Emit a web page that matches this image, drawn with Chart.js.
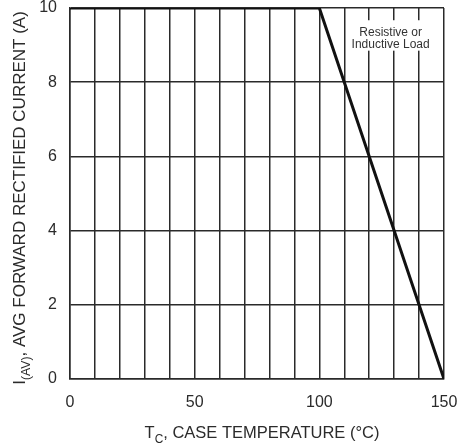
<!DOCTYPE html>
<html>
<head>
<meta charset="utf-8">
<script src="https://cdn.jsdelivr.net/npm/chart.js@4.4.1/dist/chart.umd.min.js"></script>
<style>
  html, body { margin: 0; padding: 0; background: #fff; }
  #wrap { width: 457px; height: 443px; }
</style>
</head>
<body>
<div id="wrap"><canvas id="derating" width="457" height="443"></canvas></div>
<script>
// derating curve
const caseTemp = [0, 100, 150];
const avgCurrent = [10, 10, 0];
const xTickLabels = [0, 50, 100, 150];
const yTickLabels = [0, 2, 4, 6, 8, 10];
const noteLines = ["Resistive or", "Inductive Load"];

const gridColor = "#2a2a2a";
const textColor = "#2b2b2b";

// draws text made of normal + subscript pieces, centred on 0,0
function drawParts(ctx, parts, size) {
    let total = 0;
    parts.forEach(p => {
        ctx.font = (p.sub ? size * 0.72 : size) + "px 'Liberation Sans', Arial, sans-serif";
        p.w = ctx.measureText(p.t).width;
        total += p.w;
    });
    let x = -total / 2;
    parts.forEach(p => {
        ctx.font = (p.sub ? size * 0.72 : size) + "px 'Liberation Sans', Arial, sans-serif";
        ctx.fillText(p.t, x, p.sub ? size * 0.32 : 0);
        x += p.w;
    });
}

const titlesPlugin = {
    id: "titles",
    afterDraw(chart) {
        const ctx = chart.ctx;
        ctx.save();
        ctx.fillStyle = textColor;
        ctx.textBaseline = "alphabetic";
        ctx.textAlign = "left";
        // x axis title
        ctx.save();
        ctx.translate(262, 438);
        drawParts(ctx, [{t: "T"}, {t: "C", sub: true}, {t: ", CASE TEMPERATURE (°C)"}], 16.5);
        ctx.restore();
        // y axis title
        ctx.save();
        ctx.translate(25, 198);
        ctx.rotate(-Math.PI / 2);
        drawParts(ctx, [{t: "I"}, {t: "(AV)", sub: true}, {t: ", AVG FORWARD RECTIFIED CURRENT (A)"}], 17);
        ctx.restore();
        ctx.restore();
    }
};

const notePlugin = {
    id: "note",
    afterDatasetsDraw(chart) {
        const ctx = chart.ctx;
        const xs = chart.scales.x, ys = chart.scales.y;
        const cx = xs.getPixelForValue(128.6);
        const top = ys.getPixelForValue(9.67);
        const bottom = ys.getPixelForValue(8.85);
        const left = xs.getPixelForValue(114.5);
        const right = xs.getPixelForValue(144.5);
        ctx.save();
        ctx.fillStyle = "#fff";
        ctx.fillRect(left, top, right - left, bottom - top);
        ctx.fillStyle = "#333";
        ctx.font = "12px 'Liberation Sans', Arial, sans-serif";
        ctx.textAlign = "center";
        ctx.textBaseline = "middle";
        ctx.fillText(noteLines[0], cx, ys.getPixelForValue(9.33));
        ctx.fillText(noteLines[1], cx, ys.getPixelForValue(9.02));
        ctx.restore();
    }
};

new Chart(document.getElementById("derating"), {
    type: "line",
    data: {
        datasets: [{
            data: caseTemp.map((t, i) => ({x: t, y: avgCurrent[i]})),
            borderColor: "#111",
            borderWidth: 3,
            pointRadius: 0,
            fill: false,
            tension: 0
        }]
    },
    options: {
        responsive: false,
        animation: false,
        layout: {padding: {left: 0, right: 0, top: 0, bottom: 0}},
        plugins: {legend: {display: false}, tooltip: {enabled: false}},
        scales: {
            x: {
                type: "linear",
                min: 0,
                max: 150,
                afterFit: s => { s.height = 64; s.paddingRight = 13; },
                afterBuildTicks: s => {
                    s.ticks = [];
                    for (let v = 0; v <= 150; v += 10) s.ticks.push({value: v});
                },
                grid: {color: gridColor, lineWidth: 1.5, drawTicks: false},
                border: {color: gridColor, width: 1.5},
                ticks: {
                    padding: 14,
                    color: textColor,
                    font: {size: 16, family: "'Liberation Sans', Arial, sans-serif"},
                    autoSkip: false,
                    maxRotation: 0,
                    callback: v => xTickLabels.includes(v) ? String(v) : ""
                }
            },
            y: {
                min: 0,
                max: 10,
                afterFit: s => { s.width = 70; s.paddingTop = 8; s.paddingBottom = 0; },
                afterBuildTicks: s => { s.ticks = yTickLabels.map(v => ({value: v})); },
                grid: {color: gridColor, lineWidth: 1.5, drawTicks: false},
                border: {color: gridColor, width: 1.5},
                ticks: {
                    padding: 13,
                    color: textColor,
                    font: {size: 16, family: "'Liberation Sans', Arial, sans-serif"}
                }
            }
        }
    },
    plugins: [notePlugin, titlesPlugin]
});
</script>
</body>
</html>
